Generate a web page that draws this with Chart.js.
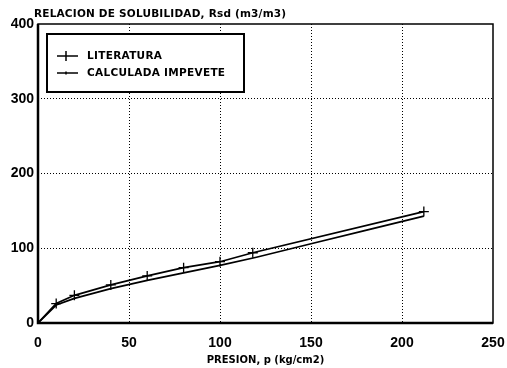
<!DOCTYPE html>
<html lang="es">
<head>
    <meta charset="UTF-8">
    <title>Relacion de solubilidad</title>
    <script src="https://cdn.jsdelivr.net/npm/chart.js@4.4.0/dist/chart.umd.min.js"></script>
    <style>
        body { margin: 0; padding: 0; background: #fff; }
        #wrap { width: 507px; height: 368px; }
    </style>
</head>
<body>
    <div id="wrap"><canvas id="rsdCanvas" width="507" height="368"></canvas></div>
    <script>
        // Datos
        const presionLit = [0, 10, 20, 40, 60, 80, 100, 118, 212];
        const rsdLit = [0, 26, 37, 51, 63, 74, 82, 94, 149];

        const presionCalc = [0, 10, 20, 40, 60, 80, 100, 120, 150, 180, 212];
        const rsdCalc = [0, 24, 33, 46, 57, 67, 77, 88, 106, 124, 143];

        const xTicks = [0, 50, 100, 150, 200, 250];
        const yTicks = [0, 100, 200, 300, 400];

        const titleY = 'RELACION DE SOLUBILIDAD, Rsd (m3/m3)';
        const titleX = 'PRESION, p (kg/cm2)';
        const labels = ['LITERATURA', 'CALCULADA IMPEVETE'];

        const numFont = '"Liberation Sans", Arial, sans-serif';
        const wideFont = '"DejaVu Sans", Verdana, sans-serif';

        function toPoints(xs, ys) {
            return xs.map((x, i) => ({ x: x, y: ys[i] }));
        }

        // marco, titulo superior y leyenda con recuadro
        const framePlugin = {
            id: 'frame',
            afterDraw(chart) {
                const { ctx, chartArea: a } = chart;
                ctx.save();
                ctx.strokeStyle = '#000';
                ctx.lineWidth = 1.5;
                ctx.strokeRect(a.left, a.top, a.right - a.left, a.bottom - a.top);
                ctx.lineWidth = 2.5;
                ctx.beginPath();
                ctx.moveTo(a.left, a.top);
                ctx.lineTo(a.left, a.bottom);
                ctx.lineTo(a.right, a.bottom);
                ctx.stroke();

                ctx.fillStyle = '#000';
                ctx.font = 'bold 10.5px ' + wideFont;
                ctx.letterSpacing = '0.2px';
                ctx.textBaseline = 'middle';
                ctx.textAlign = 'left';
                ctx.fillText(titleY, a.left - 4, 14);

                // leyenda
                const lx = a.left + 9, ly = a.top + 10, lw = 197, lh = 58;
                ctx.fillStyle = '#fff';
                ctx.fillRect(lx, ly, lw, lh);
                ctx.lineWidth = 2;
                ctx.strokeRect(lx, ly, lw, lh);
                ctx.fillStyle = '#000';
                ctx.font = 'bold 10.5px ' + wideFont;
                ctx.letterSpacing = '0.3px';
                const rows = [ly + 22, ly + 39];
                rows.forEach((ry, i) => {
                    ctx.lineWidth = 1.5;
                    ctx.beginPath();
                    ctx.moveTo(lx + 10, ry);
                    ctx.lineTo(lx + 31, ry);
                    ctx.stroke();
                    const r = i === 0 ? 5 : 1.5;
                    const mx = lx + 19;
                    ctx.beginPath();
                    ctx.moveTo(mx, ry - r);
                    ctx.lineTo(mx, ry + r);
                    ctx.stroke();
                    ctx.fillText(labels[i], lx + 40, ry + 0.5);
                });
                ctx.restore();
            }
        };

        const ctx = document.getElementById('rsdCanvas').getContext('2d');
        const rsdChart = new Chart(ctx, {
            type: 'scatter',
            data: {
                datasets: [{
                    label: labels[0],
                    data: toPoints(presionLit, rsdLit),
                    showLine: true,
                    borderColor: '#000',
                    borderWidth: 1.7,
                    pointStyle: 'cross',
                    pointRadius: 5,
                    pointBorderWidth: 1.3,
                    pointBorderColor: '#000',
                    pointBackgroundColor: '#000'
                }, {
                    label: labels[1],
                    data: toPoints(presionCalc, rsdCalc),
                    showLine: true,
                    borderColor: '#000',
                    borderWidth: 1.7,
                    pointRadius: 0
                }]
            },
            options: {
                responsive: false,
                animation: false,
                layout: { padding: { top: 24, right: 14, left: 0, bottom: 0 } },
                plugins: {
                    legend: { display: false },
                    tooltip: { enabled: false }
                },
                scales: {
                    x: {
                        type: 'linear',
                        min: 0,
                        max: 250,
                        afterBuildTicks: s => { s.ticks = xTicks.map(v => ({ value: v })); },
                        afterFit: s => { s.height = 45; s.paddingRight = 0; s.paddingLeft = 0; },
                        border: { display: false, dash: [1, 2] },
                        grid: {
                            drawTicks: false,
                            color: c => (c.tick && (c.tick.value === 0 || c.tick.value === 250)) ? 'rgba(0,0,0,0)' : '#000',
                            lineWidth: 1
                        },
                        ticks: {
                            padding: 12,
                            color: '#000',
                            font: { family: numFont, size: 14, weight: 'bold' }
                        },
                        title: {
                            display: true,
                            text: titleX,
                            color: '#000',
                            padding: { top: 0, bottom: 2 },
                            font: { family: wideFont, size: 10, weight: 'bold' }
                        }
                    },
                    y: {
                        type: 'linear',
                        min: 0,
                        max: 400,
                        afterBuildTicks: s => { s.ticks = yTicks.map(v => ({ value: v })); },
                        afterFit: s => { s.width = 38; s.paddingTop = 0; s.paddingBottom = 0; },
                        border: { display: false, dash: [1, 2] },
                        grid: {
                            drawTicks: false,
                            color: c => (c.tick && (c.tick.value === 0 || c.tick.value === 400)) ? 'rgba(0,0,0,0)' : '#000',
                            lineWidth: 1
                        },
                        ticks: {
                            padding: 4,
                            color: '#000',
                            font: { family: numFont, size: 14, weight: 'bold' }
                        }
                    }
                }
            },
            plugins: [framePlugin]
        });
    </script>
</body>
</html>
